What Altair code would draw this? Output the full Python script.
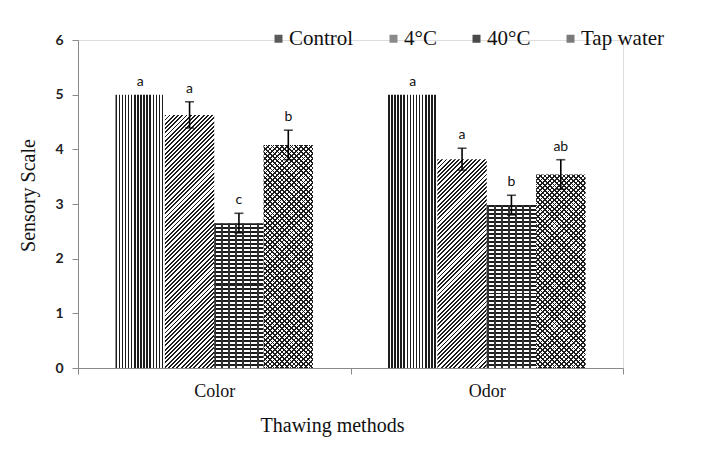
import math
import altair as alt
import pandas as pd

# ---------------- data ----------------
categories = ["Color", "Odor"]
series = ["Control", "4°C", "40°C", "Tap water"]
color_values = [5.0, 4.63, 2.65, 4.08]
odor_values = [5.0, 3.82, 2.98, 3.54]
color_errors = [0.0, 0.24, 0.18, 0.27]
odor_errors = [0.0, 0.20, 0.18, 0.27]
color_letters = ["a", "a", "c", "b"]
odor_letters = ["a", "a", "b", "ab"]
y_ticks = [0, 1, 2, 3, 4, 5, 6]
legend_grays = ["#5a5a5a", "#8a8a8a", "#4a4a4a", "#7a7a7a"]

rows = []
for cat, vals, errs, lets in [
    ("Color", color_values, color_errors, color_letters),
    ("Odor", odor_values, odor_errors, odor_letters),
]:
    for s, v, e, l in zip(series, vals, errs, lets):
        rows.append(dict(cat=cat, series=s, value=v, err=e, lo=v - e, hi=v + e, letter=l))
df = pd.DataFrame(rows)

# ---------------- layout ----------------
W, H = 545, 328
Y_MAX = 6
PAD_OUTER = 0.76
bar_w = W / len(categories) / (len(series) + 2 * PAD_OUTER)
px_per_unit = H / Y_MAX
DARK = "#1c1c1c"
WHITE = "#ffffff"
CLEAR = "rgba(0,0,0,0)"
SERIF = "Liberation Serif"


def stops(n, frac, dark, light):
    out = []
    for i in range(n):
        a = i / n
        b = (i + frac) / n
        c = (i + 1) / n
        out += [
            {"offset": round(a, 5), "color": dark},
            {"offset": round(b, 5), "color": dark},
            {"offset": round(b, 5), "color": light},
            {"offset": round(c, 5), "color": light},
        ]
    return out


def vertical_stripes(w, h, p=3.1, frac=0.5, dark=DARK, light=WHITE):
    n = max(1, round(w / p))
    return {"gradient": "linear", "x1": 0, "y1": 0, "x2": 1, "y2": 0,
            "stops": stops(n, frac, dark, light)}


def horizontal_stripes(w, h, p=4.0, frac=0.5):
    n = max(1, round(h / p))
    return {"gradient": "linear", "x1": 0, "y1": 0, "x2": 0, "y2": 1,
            "stops": stops(n, frac, DARK, WHITE)}


def diag_up(w, h, p, frac, dark, light):
    r = h / w
    k = (1 + r) / (1 + r * r)
    n = max(1, round((w + h) / (p * math.sqrt(2))))
    return {"gradient": "linear", "x1": 0, "y1": 0, "x2": k, "y2": k * r,
            "stops": stops(n, frac, dark, light)}


def diag_down(w, h, p, frac, dark, light):
    r = h / w
    k = (1 + r) / (1 + r * r)
    n = max(1, round((w + h) / (p * math.sqrt(2))))
    return {"gradient": "linear", "x1": 0, "y1": 1, "x2": k, "y2": 1 - k * r,
            "stops": stops(n, frac, dark, light)}


def fills_for(s, w, h):
    if s == "Control":
        return [vertical_stripes(w, h)]
    if s == "4°C":
        return [diag_up(w, h, 3.0, 0.45, DARK, WHITE)]
    if s == "40°C":
        return [horizontal_stripes(w, h),
                vertical_stripes(w, h, p=7.0, frac=0.28, dark="#333333", light=CLEAR)]
    return [diag_up(w, h, 3.4, 0.36, DARK, WHITE),
            diag_down(w, h, 3.4, 0.36, DARK, CLEAR)]


# ---------------- encodings ----------------
x_enc = alt.X(
    "cat:N",
    scale=alt.Scale(domain=categories, paddingInner=0, paddingOuter=0),
    axis=alt.Axis(
        title="Thawing methods", labelAngle=0, tickBand="extent", tickSize=6,
        domainColor="#8a8a8a", tickColor="#8a8a8a",
        labelFont=SERIF, labelFontSize=18, labelColor="#111", labelPadding=8,
        titleFont=SERIF, titleFontSize=20, titleFontWeight="normal", titleColor="#111",
        titleX=254, titleY=57, titleBaseline="middle",
    ),
)
xo_enc = alt.XOffset(
    "series:N", scale=alt.Scale(domain=series, paddingInner=0, paddingOuter=PAD_OUTER)
)
y_axis = alt.Axis(
    values=y_ticks, title="Sensory Scale", grid=False, tickSize=6,
    domainColor="#8a8a8a", tickColor="#8a8a8a",
    labelFont="Lato", labelFontSize=14, labelFontWeight="bold", labelColor="#222",
    labelPadding=9,
    titleFont=SERIF, titleFontSize=20, titleFontWeight="normal", titleColor="#111",
    titleX=-50, titleY=155, titleBaseline="middle", titleAlign="center",
)
y_scale = alt.Scale(domain=[0, Y_MAX], nice=False)


def y_of(field):
    return alt.Y(field, scale=y_scale, axis=y_axis)


base = alt.Chart(df)
layers = []

# bars with pattern-like gradient fills
for r in rows:
    h = r["value"] * px_per_unit
    for f in fills_for(r["series"], bar_w, h):
        layers.append(
            base.transform_filter(
                (alt.datum.cat == r["cat"]) & (alt.datum.series == r["series"])
            ).mark_bar(fill=f).encode(x=x_enc, xOffset=xo_enc, y=y_of("value:Q"))
        )

# invisible layer providing the legend
layers.append(
    base.mark_square(size=64, opacity=0).encode(
        x=x_enc, xOffset=xo_enc, y=y_of("value:Q"),
        color=alt.Color(
            "series:N",
            scale=alt.Scale(domain=series, range=legend_grays),
            legend=alt.Legend(
                title=None, orient="none", legendX=190, legendY=-12,
                direction="horizontal", symbolType="square", symbolSize=64,
                symbolOpacity=1, symbolStrokeWidth=0,
                labelFont=SERIF, labelFontSize=21, labelColor="#111",
                labelOffset=0, columnPadding=29, padding=0,
            ),
        ),
    )
)

err_base = base.transform_filter(alt.datum.err > 0)
layers.append(
    err_base.mark_rule(color="black", strokeWidth=1.6).encode(
        x=x_enc, xOffset=xo_enc, y=y_of("lo:Q"), y2="hi:Q"
    )
)
for fld in ["lo:Q", "hi:Q"]:
    layers.append(
        err_base.mark_tick(color="black", size=9, thickness=1.6).encode(
            x=x_enc, xOffset=xo_enc, y=y_of(fld)
        )
    )

layers.append(
    base.mark_text(font="Lato", fontSize=14, baseline="middle", dy=-13, color="#111").encode(
        x=x_enc, xOffset=xo_enc, y=y_of("hi:Q"), text="letter:N"
    )
)

chart = alt.layer(*layers).properties(
    width=W, height=H,
    padding={"left": 70, "top": 32, "right": 77, "bottom": 80},
    autosize=alt.AutoSizeParams(type="none"),
).configure_view(stroke=None).configure(background="white").configure_legend(
    labelFont=SERIF, labelFontSize=21
)

chart.save("out.html", embed_options={"renderer": "svg", "actions": False})
